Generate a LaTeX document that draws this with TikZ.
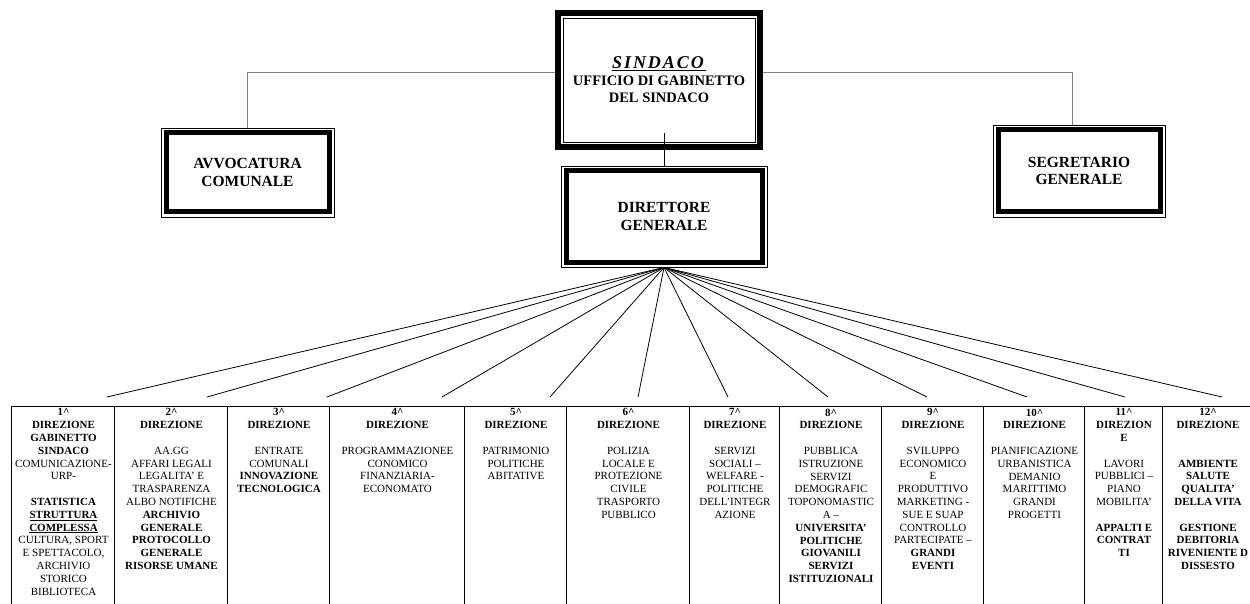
\documentclass[tikz,border=0pt]{standalone}
\usepackage{fontspec}
\setmainfont{Liberation Serif}
\usepackage{tikz}
\usetikzlibrary{positioning}
\tikzstyle{mayor} = [rectangle, draw=black, line width=5.7pt, inner sep=0pt]
\tikzstyle{thinframe} = [rectangle, draw=black, line width=0.9pt, inner sep=0pt, align=center]
\tikzstyle{thickframe} = [rectangle, draw=black, line width=5pt, inner sep=0pt, align=center, font=\bfseries\fontsize{15.5}{17.5}\selectfont]
\tikzstyle{colbox} = [rectangle, draw=black, double, double distance=1pt, line width=0.6pt, outer sep=0pt, inner sep=0pt, minimum height=213pt]
\tikzstyle{coltext} = [align=center, inner sep=0pt, font=\fontsize{11}{12.8}\selectfont]
\tikzstyle{side} = [draw=gray, line width=0.9pt]
\tikzstyle{tie} = [draw=black, line width=0.8pt]

\begin{document}
\begin{tikzpicture}[x=1pt, y=-1pt]
\useasboundingbox (0,0) rectangle (1250,604);
\clip (0,0) rectangle (1250,604);

% vertici
\node (sindaco) [mayor, minimum width=202pt, minimum height=134pt] at (659,80) {};
\node (sindin) [thinframe, minimum width=192pt, minimum height=124pt, font=\bfseries\fontsize{14.5}{17}\selectfont] at (sindaco) {{\fontsize{18}{20}\selectfont\addfontfeature{LetterSpace=11}\underline{\textit{SINDACO}}}\\UFFICIO DI GABINETTO\\DEL SINDACO};
\node (avv) [thinframe, minimum width=173pt, minimum height=89pt] at (247.5,172.5) {};
\node (avvin) [thickframe, minimum width=163pt, minimum height=79pt] at (avv) {AVVOCATURA\\COMUNALE};
\node (segr) [thinframe, minimum width=172pt, minimum height=92pt] at (1079,171) {};
\node (segrin) [thickframe, minimum width=162pt, minimum height=82pt] at (segr) {SEGRETARIO\\GENERALE};
\node (dir) [thinframe, minimum width=206pt, minimum height=101pt] at (664,216.5) {};
\node (dirin) [thickframe, minimum width=196pt, minimum height=91pt] at (dir) {DIRETTORE\\GENERALE};

% direzioni
\node (d1) [colbox, minimum width=103pt] at (63.5,513.5) {};
\node (d2) [colbox, minimum width=113pt, right=0pt of d1] {};
\node (d3) [colbox, minimum width=102pt, right=0pt of d2] {};
\node (d4) [colbox, minimum width=135pt, right=0pt of d3] {};
\node (d5) [colbox, minimum width=102pt, right=0pt of d4] {};
\node (d6) [colbox, minimum width=123pt, right=0pt of d5] {};
\node (d7) [colbox, minimum width=90pt, right=0pt of d6] {};
\node (d8) [colbox, minimum width=102pt, right=0pt of d7] {};
\node (d9) [colbox, minimum width=102pt, right=0pt of d8] {};
\node (d10) [colbox, minimum width=101pt, right=0pt of d9] {};
\node (d11) [colbox, minimum width=78pt, right=0pt of d10] {};
\node (d12) [colbox, minimum width=90pt, right=0pt of d11] {};

\node (l1) [coltext, below=1.5pt of d1.north] {\textbf{1\textasciicircum}\\\textbf{DIREZIONE}\\\textbf{GABINETTO}\\\textbf{SINDACO}\\COMUNICAZIONE-\\URP-\\~\\\textbf{STATISTICA}\\\underline{\textbf{STRUTTURA}}\\\underline{\textbf{COMPLESSA}}\\CULTURA, SPORT\\E SPETTACOLO,\\ARCHIVIO\\STORICO\\BIBLIOTECA};
\node (l2) [coltext, below=1.5pt of d2.north] {\textbf{2\textasciicircum}\\\textbf{DIREZIONE}\\~\\AA.GG\\AFFARI LEGALI\\LEGALITA' E\\TRASPARENZA\\ALBO NOTIFICHE\\\textbf{ARCHIVIO}\\\textbf{GENERALE}\\\textbf{PROTOCOLLO}\\\textbf{GENERALE}\\\textbf{RISORSE UMANE}};
\node (l3) [coltext, below=1.5pt of d3.north] {\textbf{3\textasciicircum}\\\textbf{DIREZIONE}\\~\\ENTRATE\\COMUNALI\\\textbf{INNOVAZIONE}\\\textbf{TECNOLOGICA}};
\node (l4) [coltext, below=1.5pt of d4.north] {\textbf{4\textasciicircum}\\\textbf{DIREZIONE}\\~\\PROGRAMMAZIONEE\\CONOMICO\\FINANZIARIA-\\ECONOMATO};
\node (l5) [coltext, below=1.5pt of d5.north] {\textbf{5\textasciicircum}\\\textbf{DIREZIONE}\\~\\PATRIMONIO\\POLITICHE\\ABITATIVE};
\node (l6) [coltext, below=1.5pt of d6.north] {\textbf{6\textasciicircum}\\\textbf{DIREZIONE}\\~\\POLIZIA\\LOCALE E\\PROTEZIONE\\CIVILE\\TRASPORTO\\PUBBLICO};
\node (l7) [coltext, below=1.5pt of d7.north] {\textbf{7\textasciicircum}\\\textbf{DIREZIONE}\\~\\SERVIZI\\SOCIALI --\\WELFARE -\\POLITICHE\\DELL'INTEGR\\AZIONE};
\node (l8) [coltext, below=1.5pt of d8.north] {\textbf{8\textasciicircum}\\\textbf{DIREZIONE}\\~\\PUBBLICA\\ISTRUZIONE\\SERVIZI\\DEMOGRAFIC\\TOPONOMASTIC\\A --\\\textbf{UNIVERSITA'}\\\textbf{POLITICHE}\\\textbf{GIOVANILI}\\\textbf{SERVIZI}\\\textbf{ISTITUZIONALI}};
\node (l9) [coltext, below=1.5pt of d9.north] {\textbf{9\textasciicircum}\\\textbf{DIREZIONE}\\~\\SVILUPPO\\ECONOMICO\\E\\PRODUTTIVO\\MARKETING -\\SUE E SUAP\\CONTROLLO\\PARTECIPATE --\\\textbf{GRANDI}\\\textbf{EVENTI}};
\node (l10) [coltext, below=1.5pt of d10.north] {\textbf{10\textasciicircum}\\\textbf{DIREZIONE}\\~\\PIANIFICAZIONE\\URBANISTICA\\DEMANIO\\MARITTIMO\\GRANDI\\PROGETTI};
\node (l11) [coltext, below=1.5pt of d11.north] {\textbf{11\textasciicircum}\\\textbf{DIREZION}\\\textbf{E}\\~\\LAVORI\\PUBBLICI --\\PIANO\\MOBILITA'\\~\\\textbf{APPALTI E}\\\textbf{CONTRAT}\\\textbf{TI}};
\node (l12) [coltext, below=1.5pt of d12.north] {\textbf{12\textasciicircum}\\\textbf{DIREZIONE}\\~\\~\\\textbf{AMBIENTE}\\\textbf{SALUTE}\\\textbf{QUALITA'}\\\textbf{DELLA VITA}\\~\\\textbf{GESTIONE}\\\textbf{DEBITORIA}\\\textbf{RIVENIENTE D}\\\textbf{DISSESTO}};

% estremi del ventaglio
\coordinate (t1) at (107,397);
\coordinate (t2) at (207,397);
\coordinate (t3) at (327,397);
\coordinate (t4) at (442,397);
\coordinate (t5) at (550,397);
\coordinate (t6) at (638,397);
\coordinate (t7) at (728,397);
\coordinate (t8) at (828,397);
\coordinate (t9) at (927,397);
\coordinate (t10) at (1027,397);
\coordinate (t11) at (1125,397);
\coordinate (t12) at (1222,397);

\draw [side] ([yshift=8pt]sindaco.west) -| (avv.north);
\draw [side] ([yshift=8pt]sindaco.east) -| ([xshift=-7pt]segr.north);
\draw [tie] (dir.north) -- ([yshift=9pt]dir.north |- sindin.south);

\draw [tie] (dir.south) -- (t1);
\draw [tie] (dir.south) -- (t2);
\draw [tie] (dir.south) -- (t3);
\draw [tie] (dir.south) -- (t4);
\draw [tie] (dir.south) -- (t5);
\draw [tie] (dir.south) -- (t6);
\draw [tie] (dir.south) -- (t7);
\draw [tie] (dir.south) -- (t8);
\draw [tie] (dir.south) -- (t9);
\draw [tie] (dir.south) -- (t10);
\draw [tie] (dir.south) -- (t11);
\draw [tie] (dir.south) -- (t12);
\end{tikzpicture}
\end{document}
